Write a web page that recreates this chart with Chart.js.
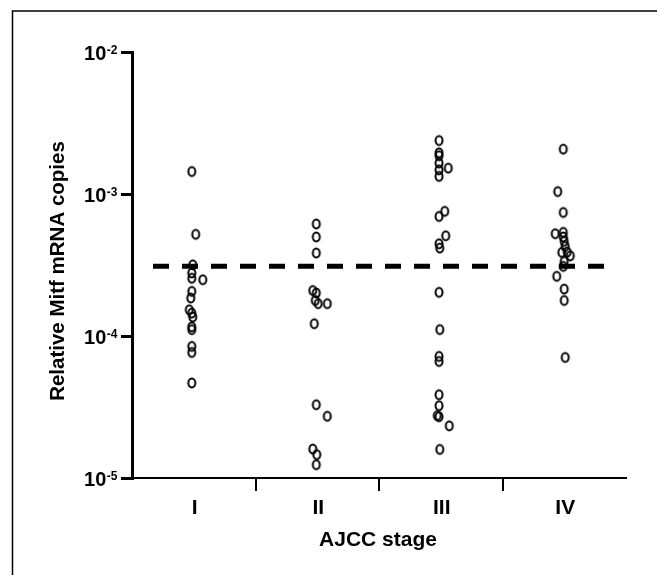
<!DOCTYPE html>
<html>
<head>
<meta charset="utf-8">
<script src="https://cdn.jsdelivr.net/npm/chart.js@4/dist/chart.umd.min.js"></script>
<style>
  html, body { margin: 0; padding: 0; background: #fff; }
  #wrap { width: 657px; height: 575px; }
</style>
</head>
<body>
<div id="wrap"><canvas id="c" width="657" height="575"></canvas></div>
<script>
// AJCC stage groups
const categories = ['I', 'II', 'III', 'IV'];

// Relative Mitf mRNA copies per tumour, by stage
const stageI = [1.44e-3, 5.2e-4, 3.17e-4, 2.78e-4, 2.55e-4, 2.49e-4, 2.06e-4, 1.85e-4,
  1.53e-4, 1.45e-4, 1.36e-4, 1.16e-4, 1.11e-4, 8.45e-5, 7.66e-5, 4.67e-5];
const stageII = [6.15e-4, 4.98e-4, 3.84e-4, 2.09e-4, 2.01e-4, 1.78e-4, 1.69e-4, 1.69e-4,
  1.22e-4, 3.28e-5, 2.72e-5, 1.6e-5, 1.46e-5, 1.24e-5];
const stageIII = [2.38e-3, 1.95e-3, 1.86e-3, 1.65e-3, 1.52e-3, 1.48e-3, 1.33e-3, 7.55e-4,
  6.95e-4, 5.08e-4, 4.46e-4, 4.16e-4, 2.03e-4, 1.11e-4, 7.18e-5, 6.62e-5, 3.86e-5,
  3.23e-5, 2.75e-5, 2.7e-5, 2.33e-5, 1.59e-5];
const stageIV = [2.07e-3, 1.04e-3, 7.41e-4, 5.37e-4, 5.25e-4, 4.98e-4, 4.64e-4, 4.27e-4,
  3.9e-4, 3.88e-4, 3.67e-4, 3.35e-4, 3.09e-4, 2.63e-4, 2.14e-4, 1.78e-4, 7.06e-5];

// Cut-off level shown as the dashed line
const cutoff = 3.1e-4;

// Decade tick values and their exponents
const yTickValues = [1e-5, 1e-4, 1e-3, 1e-2];
const yTickExponents = ['-5', '-4', '-3', '-2'];

// Horizontal spread of overlapping points within a column (fraction of a column)
const jitterI = [-0.016, 0.016, -0.008, -0.016, -0.016, 0.073, -0.016, -0.024,
  -0.036, -0.016, -0.008, -0.016, -0.016, -0.016, -0.016, -0.016];
const jitterII = [-0.008, -0.008, -0.008, -0.036, -0.008, -0.016, 0.008, 0.081,
  -0.024, -0.008, 0.081, -0.036, -0.004, -0.008];
const jitterIII = [-0.014, -0.014, -0.014, -0.014, 0.061, -0.014, -0.014, 0.032,
  -0.014, 0.04, -0.014, -0.008, -0.014, -0.008, -0.014, -0.014, -0.014, -0.014,
  -0.028, -0.014, 0.069, -0.008];
const jitterIV = [-0.008, -0.053, -0.008, -0.008, -0.073, -0.008, 0, 0.008,
  0.024, -0.02, 0.049, 0, -0.008, -0.061, 0, 0, 0.008];

const stages = [stageI, stageII, stageIII, stageIV];
const jitters = [jitterI, jitterII, jitterIII, jitterIV];

// Open, slightly tall ellipse used as the marker
function makeMarker() {
  const m = document.createElement('canvas');
  m.width = 16; m.height = 16;
  const g = m.getContext('2d');
  g.strokeStyle = '#000';
  g.lineWidth = 2;
  g.beginPath();
  g.ellipse(8, 8, 3.5, 4.45, 0, 0, Math.PI * 2);
  g.stroke();
  return m;
}
const marker = makeMarker();

const FONT = '"Liberation Sans", Arial, Helvetica, sans-serif';

const datasets = [{
  label: 'cutoff',
  data: [{ x: -0.33, y: cutoff }, { x: 3.33, y: cutoff }],
  showLine: true,
  borderColor: '#000',
  borderWidth: 5,
  borderDash: [16, 13],
  pointRadius: 0,
  order: 2
}];
stages.forEach((vals, i) => {
  datasets.push({
    label: categories[i],
    data: vals.map((v, k) => ({ x: i + jitters[i][k], y: v })),
    pointStyle: marker,
    pointRadius: 5,
    backgroundColor: 'rgba(0,0,0,0)',
    borderColor: '#000',
    showLine: false,
    order: 1
  });
});

// Frame, tick labels and axis titles
const decorations = {
  id: 'decorations',
  beforeDraw(chart) {
    const ctx = chart.ctx;
    ctx.save();
    ctx.fillStyle = '#fff';
    ctx.fillRect(0, 0, chart.width, chart.height);
    ctx.strokeStyle = '#000';
    ctx.lineWidth = 1.5;
    ctx.beginPath();
    ctx.moveTo(12.5, chart.height + 5);
    ctx.lineTo(12.5, 11);
    ctx.lineTo(chart.width + 5, 11);
    ctx.stroke();
    ctx.restore();
  },
  afterDraw(chart) {
    const ctx = chart.ctx;
    const ys = chart.scales.y;
    const xs = chart.scales.x;
    const area = chart.chartArea;
    ctx.save();
    ctx.fillStyle = '#000';

    // y tick labels: 10 with a raised exponent
    const labelRight = area.left - 14.5;
    yTickValues.forEach((v, i) => {
      const py = ys.getPixelForValue(v);
      ctx.font = 'bold 12px ' + FONT;
      const supW = ctx.measureText(yTickExponents[i]).width;
      ctx.textAlign = 'right';
      ctx.textBaseline = 'alphabetic';
      ctx.fillText(yTickExponents[i], labelRight, py + 1.7);
      ctx.font = 'bold 20px ' + FONT;
      ctx.fillText('10', labelRight - supW - 0.5, py + 7.5);
    });

    // category labels
    ctx.font = 'bold 21px ' + FONT;
    ctx.textAlign = 'center';
    ctx.textBaseline = 'alphabetic';
    categories.forEach((c, i) => {
      ctx.fillText(c, xs.getPixelForValue(i) + 1, area.bottom + 36);
    });

    // x title
    ctx.fillText('AJCC stage', (area.left + area.right) / 2 - 1, area.bottom + 68);

    // y title
    ctx.font = 'bold 20.5px ' + FONT;
    ctx.translate(63.5, 271);
    ctx.rotate(-Math.PI / 2);
    ctx.fillText('Relative Mitf mRNA copies', 0, 0);
    ctx.restore();
  }
};

new Chart(document.getElementById('c'), {
  type: 'scatter',
  data: { datasets },
  options: {
    responsive: false,
    animation: false,
    devicePixelRatio: 1,
    layout: { padding: { top: 52, right: 31, left: 0, bottom: 0 } },
    plugins: { legend: { display: false }, tooltip: { enabled: false } },
    scales: {
      x: {
        type: 'linear',
        min: -0.5,
        max: 3.5,
        afterBuildTicks: (s) => { s.ticks = [0.5, 1.5, 2.5].map(v => ({ value: v })); },
        afterFit: (s) => { s.height = 97; },
        ticks: { display: false },
        grid: { drawOnChartArea: false, drawTicks: true, tickLength: 13, tickWidth: 2, lineWidth: 2, tickColor: '#000', color: '#000' },
        border: { display: true, width: 2, color: '#000' }
      },
      y: {
        type: 'logarithmic',
        min: 1e-5,
        max: 1e-2,
        afterBuildTicks: (s) => { s.ticks = yTickValues.map(v => ({ value: v })); },
        afterFit: (s) => { s.width = 132; },
        ticks: { display: false },
        grid: { drawOnChartArea: false, drawTicks: true, tickLength: 11, tickWidth: 3, lineWidth: 3, tickColor: '#000', color: '#000' },
        border: { display: true, width: 3, color: '#000' }
      }
    }
  },
  plugins: [decorations]
});
</script>
</body>
</html>
